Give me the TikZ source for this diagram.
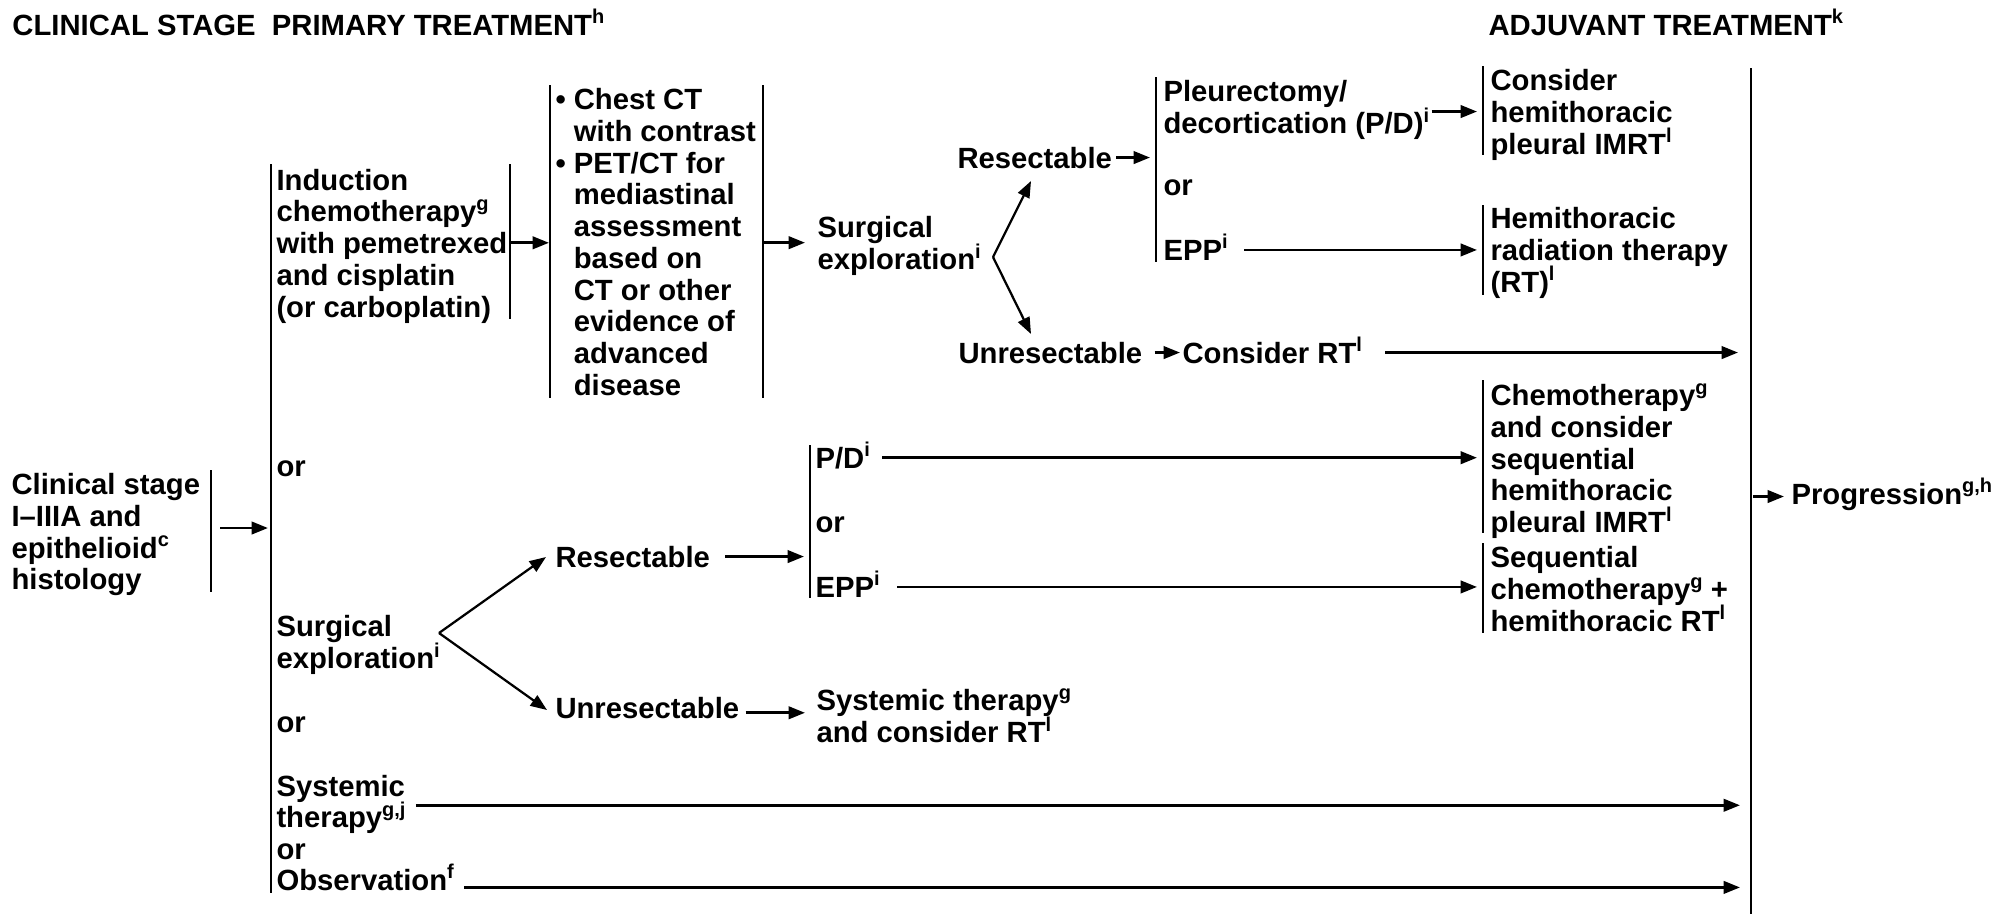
\documentclass[tikz,border=0pt]{standalone}
\usepackage{fontspec}
\setmainfont{Liberation Sans}
\usetikzlibrary{arrows.meta}
\newcommand\sps[1]{\raisebox{0.38em}[0pt][0pt]{\fontsize{8pt}{8pt}\selectfont #1}}
\newcommand\fs{\rule{0pt}{11pt}}
\newcommand\bph{\hphantom{\textbullet\ }}
\begin{document}
\begin{tikzpicture}[x=0.4pt,y=-0.4pt,
  txt/.style={font=\bfseries\fontsize{11.7pt}{12.7pt}\selectfont, inner sep=0pt, anchor=base west},
  ml/.style={font=\bfseries\fontsize{11.7pt}{12.7pt}\selectfont, inner sep=0pt, anchor=north west, align=left},
  brk/.style={line width=1.1pt},
  arr/.style={line width=1.1pt, -{Triangle[length=6.6pt,width=5pt]}},
  fork/.style={line width=0.9pt, -{Triangle[length=6.6pt,width=5pt]}},
]
\useasboundingbox[fill=white] (0,0) rectangle (1999,916);

% titles
\node[txt] (t1) at (12,35) {CLINICAL STAGE\ \ PRIMARY TREATMENT\sps{h}};
\node[txt] (t2) at (1488,35) {ADJUVANT TREATMENT\sps{k}};

% text nodes
\node[ml] (cs) at (11,466.5) {\fs Clinical stage\\I–IIIA and\\epithelioid\sps{c}\\histology};
\node[ml] (ind) at (276,162) {\fs Induction\\chemotherapy\sps{g}\\with pemetrexed\\and cisplatin\\(or carboplatin)};
\node[ml] (chest) at (555,81.5) {\fs\textbullet\ Chest CT\\\bph with contrast\\\textbullet\ PET/CT for\\\bph mediastinal\\\bph assessment\\\bph based on\\\bph CT or other\\\bph evidence of\\\bph advanced\\\bph disease};
\node[ml] (surg1) at (817,209.5) {\fs Surgical\\exploration\sps{i}};
\node[txt] (res1) at (957,168) {Resectable};
\node[txt] (unres1) at (958,363) {Unresectable};
\node[txt] (crt) at (1182,363) {Consider RT\sps{l}};
\node[ml] (pleur) at (1163,73.5) {\fs Pleurectomy/\\decortication (P/D)\sps{i}};
\node[txt] (or4) at (1163,195) {or};
\node[txt] (epp1) at (1163,260) {EPP\sps{i}};
\node[ml] (cons) at (1490,62.5) {\fs Consider\\hemithoracic\\pleural IMRT\sps{l}};
\node[ml] (hemi) at (1490,200.5) {\fs Hemithoracic\\radiation therapy\\(RT)\sps{l}};
\node[txt] (or1) at (276,476) {or};
\node[txt] (pd) at (815,468) {P/D\sps{i}};
\node[txt] (or5) at (815,532) {or};
\node[txt] (epp2) at (815,597) {EPP\sps{i}};
\node[ml] (chemo) at (1490,377.5) {\fs Chemotherapy\sps{g}\\and consider\\sequential\\hemithoracic\\pleural IMRT\sps{l}};
\node[ml] (seq) at (1490,539.5) {\fs Sequential\\chemotherapy\sps{g} +\\hemithoracic RT\sps{l}};
\node[txt] (prog) at (1791,504) {Progression\sps{g,h}};
\node[ml] (surg2) at (276,608.5) {\fs Surgical\\exploration\sps{i}};
\node[txt] (res2) at (555,567) {Resectable};
\node[txt] (unres2) at (555,718) {Unresectable};
\node[ml] (sys1) at (816,682.5) {\fs Systemic therapy\sps{g}\\and consider RT\sps{l}};
\node[txt] (or2) at (276,732) {or};
\node[ml, text depth=5.7pt] (sys2) at (276,768) {\fs Systemic\\therapy\sps{g,j}};
\node[txt] (or3) at (276,859) {or};
\node[txt, text depth=6.4pt] (obs) at (276,890) {Observation\sps{f}};

% bracket coordinates
\coordinate (csT) at (211,470);  \coordinate (csB) at (211,592);
\coordinate (mainT) at (271,164); \coordinate (mainB) at (271,893);
\coordinate (indT) at (510,164); \coordinate (indB) at (510,319);
\coordinate (chLT) at (550,85);  \coordinate (chLB) at (550,398);
\coordinate (chRT) at (763,85);  \coordinate (chRB) at (763,398);
\coordinate (plT) at (1156,77);  \coordinate (plB) at (1156,262);
\coordinate (coT) at (1483,66);  \coordinate (coB) at (1483,155);
\coordinate (heT) at (1483,205); \coordinate (heB) at (1483,295);
\coordinate (pdT) at (810,445);  \coordinate (pdB) at (810,598);
\coordinate (chmT) at (1483,380); \coordinate (chmB) at (1483,533);
\coordinate (sqT) at (1483,543); \coordinate (sqB) at (1483,633);
\coordinate (rtT) at (1751,68);  \coordinate (rtB) at (1751,914);

\foreach \a/\b in {csT/csB, mainT/mainB, indT/indB, chLT/chLB, chRT/chRB, plT/plB, coT/coB, heT/heB, pdT/pdB, chmT/chmB, sqT/sqB, rtT/rtB}
  \draw[brk] (\a) -- (\b);

% fork points
\coordinate (v1) at (993,257);
\coordinate (v1a) at (1031,181);
\coordinate (v1b) at (1031,334);
\coordinate (v2) at (439,633);
\coordinate (v2a) at (546,557);
\coordinate (v2b) at (547,710);
\coordinate (csA) at (211,528);

% connectors
\draw[arr, shorten <=3.6pt, shorten >=1.2pt] (csA) -- (csA -| mainT);
\draw[arr, shorten <=0.4pt, shorten >=0.4pt] (ind.east -| indT) -- (ind.east -| chLT);
\draw[arr, shorten <=0.4pt, shorten >=4.8pt] (surg1.west -| chRT) -- (surg1.west);
\draw[fork] (v1) -- (v1a);
\draw[fork] (v1) -- (v1b);
\draw[arr, shorten <=1.6pt, shorten >=2.4pt] (res1.east) -- (res1.east -| plT);
\draw[arr, shorten <=0.8pt, shorten >=2.4pt] (pleur.east |- cons.west) -- (cons.west -| coT);
\draw[arr, shorten <=6.4pt, shorten >=2.4pt] (epp1.east) -- (epp1.east -| heT);
\draw[arr, shorten <=4.8pt, shorten >=0.8pt] (unres1.east) -- (unres1.east -| crt.west);
\draw[arr, shorten <=9.2pt, shorten >=5.2pt] (crt.east) -- (crt.east -| rtT);
\draw[arr, shorten <=4.8pt, shorten >=2.4pt] (pd.east) -- (pd.east -| chmT);
\draw[arr, shorten <=6.8pt, shorten >=2.4pt] (epp2.east) -- (epp2.east -| sqT);
\draw[fork] (v2) -- (v2a);
\draw[fork] (v2) -- (v2b);
\draw[arr, shorten <=6pt, shorten >=2.4pt] (res2.east) -- (res2.east -| pdT);
\draw[arr, shorten <=2.4pt, shorten >=4.4pt] (unres2.east |- sys1.west) -- (sys1.west);
\draw[arr, shorten <=4pt, shorten >=4.4pt] (sys2.east) -- (sys2.east -| rtT);
\draw[arr, shorten <=4pt, shorten >=4.4pt] (obs.east) -- (obs.east -| rtT);
\draw[arr, shorten <=0.8pt, shorten >=2.8pt] (prog.west -| rtT) -- (prog.west);
\end{tikzpicture}
\end{document}
